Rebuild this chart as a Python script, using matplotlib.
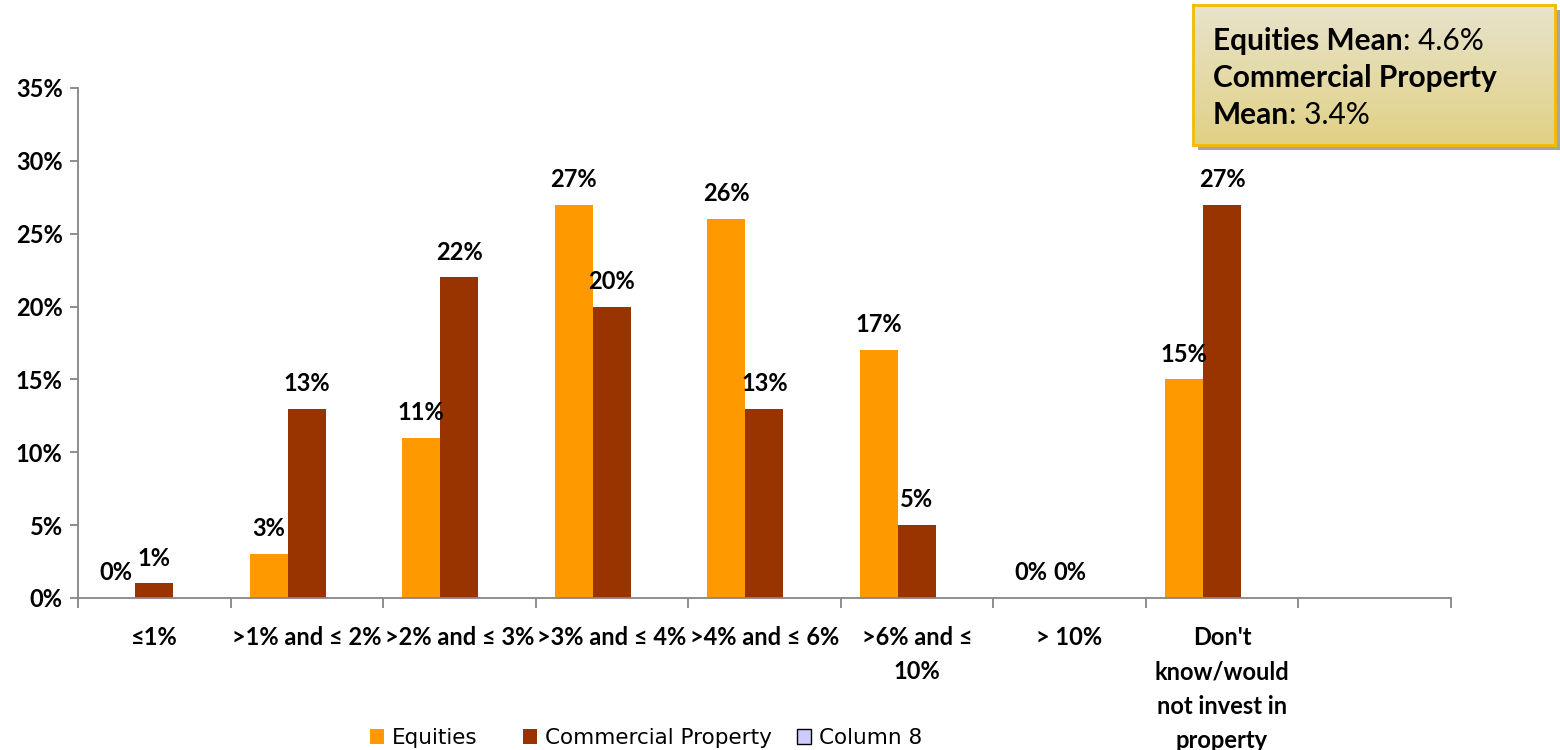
import numpy as np
import matplotlib.pyplot as plt
from matplotlib.patches import Patch, Rectangle

categories = ["≤1%", ">1% and ≤ 2%", ">2% and ≤ 3%", ">3% and ≤ 4%", ">4% and ≤ 6%",
              ">6% and ≤\n10%", "> 10%", "Don't\nknow/would\nnot invest in\nproperty", ""]
equities = [0, 3, 11, 27, 26, 17, 0, 15, np.nan]
commercial = [1, 13, 22, 20, 13, 5, 0, 27, np.nan]
column8 = [np.nan] * 9

equities_mean = 4.6
commercial_mean = 3.4

font = "Lato"
c_eq = "#FF9900"
c_cp = "#993300"
c_c8 = "#CCCCFF"
axis_grey = "#868686"
fs = 17

fig = plt.figure(figsize=(15.6, 7.5), dpi=100)
ax = fig.add_axes([0.05, 0.2027, 0.88, 0.68])

x = np.arange(len(categories))
w = 0.25
bars_eq = ax.bar(x - w, equities, w, color=c_eq, label="Equities")
bars_cp = ax.bar(x, commercial, w, color=c_cp, label="Commercial Property")
ax.bar(x + w, column8, w, color=c_c8, edgecolor="black", label="Column 8")

# value labels above each bar
for bars, vals in [(bars_eq, equities), (bars_cp, commercial)]:
    for b, v in zip(bars, vals):
        if np.isnan(v):
            continue
        ax.annotate(f"{v:.0f}%", (b.get_x() + b.get_width() / 2, v),
                    xytext=(0, 10), textcoords="offset points", ha="center", va="bottom",
                    fontsize=fs, fontweight="bold", family=font)

ax.set_xlim(-0.5, len(categories) - 0.5)
ax.set_ylim(0, 35)
ax.set_yticks(np.arange(0, 36, 5))
ax.set_yticklabels([f"{t}%" for t in range(0, 36, 5)], fontsize=fs, fontweight="bold", family=font)

# boundaries get the tick marks, centres get the category names
ax.set_xticks(np.arange(-0.5, len(categories), 1))
ax.set_xticklabels([])
ax.set_xticks(x, categories, minor=True)
for lbl in ax.get_xticklabels(minor=True):
    lbl.set_fontsize(fs)
    lbl.set_fontweight("bold")
    lbl.set_family(font)
    lbl.set_linespacing(1.6)
ax.tick_params(axis="x", which="major", length=7, width=1.3, color=axis_grey, direction="out")
ax.tick_params(axis="x", which="minor", length=0, pad=20)
ax.tick_params(axis="y", length=6, width=1.3, color=axis_grey, direction="out", pad=5)

for s in ["top", "right"]:
    ax.spines[s].set_visible(False)
for s in ["left", "bottom"]:
    ax.spines[s].set_color(axis_grey)
    ax.spines[s].set_linewidth(1.3)

# legend entries placed one by one along the bottom
handles = [Patch(facecolor=c_eq, label="Equities"),
           Patch(facecolor=c_cp, label="Commercial Property"),
           Patch(facecolor=c_c8, edgecolor="black", linewidth=1, label="Column 8")]
for h, lx in zip(handles, [370, 523, 797]):
    leg = fig.legend(handles=[h], loc="center left", bbox_to_anchor=(lx / 1560, 0.016),
                     frameon=False, borderpad=0, borderaxespad=0, fontsize=15.5,
                     handlelength=0.65, handleheight=0.65, handletextpad=0.35)

# mean summary box with gradient fill and drop shadow
bx, by, bw, bh = 1193 / 1560, 1 - 145 / 750, 362 / 1560, 140 / 750
fig.patches.append(Rectangle((bx + 0.003, by - 0.006), bw, bh, transform=fig.transFigure,
                             facecolor="#a6a6a6", edgecolor="none", zorder=1))
gax = fig.add_axes([bx, by, bw, bh], zorder=2)
grad = np.linspace(0, 1, 100)[:, None]
top = np.array([0.91, 0.89, 0.80])
bot = np.array([0.88, 0.82, 0.52])
img = top[None, None, :] * (1 - grad[..., None]) + bot[None, None, :] * grad[..., None]
gax.imshow(img, aspect="auto", extent=[0, 1, 0, 1])
gax.set_xticks([])
gax.set_yticks([])
for s in gax.spines.values():
    s.set_color("#F5BA00")
    s.set_linewidth(2)

bfs = 21.5
t1 = gax.text(0.055, 0.679, "Equities Mean", fontsize=bfs, fontweight="bold", family=font,
              va="baseline", transform=gax.transAxes)
gax.annotate(f": {equities_mean}%", xy=(1, 0), xycoords=t1, fontsize=bfs, family=font,
             va="bottom", ha="left")
gax.text(0.055, 0.414, "Commercial Property", fontsize=bfs, fontweight="bold", family=font,
         va="baseline", transform=gax.transAxes)
t3 = gax.text(0.055, 0.15, "Mean", fontsize=bfs, fontweight="bold", family=font,
              va="baseline", transform=gax.transAxes)
gax.annotate(f": {commercial_mean}%", xy=(1, 0), xycoords=t3, fontsize=bfs, family=font,
             va="bottom", ha="left")

fig.savefig("out.png", dpi=100)
